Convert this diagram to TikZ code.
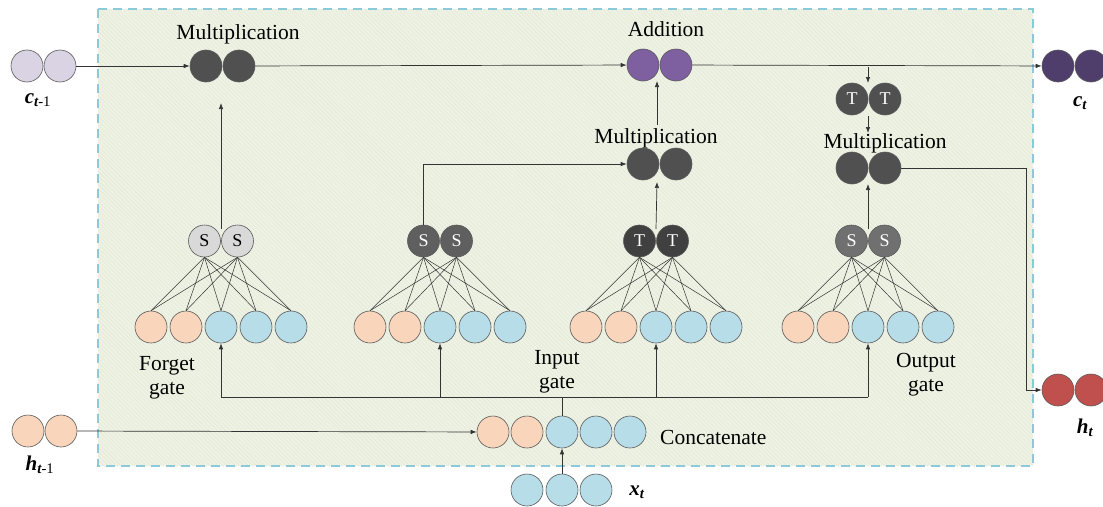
\documentclass[tikz,border=0pt]{standalone}
\usepackage{fontspec}
\setmainfont{Liberation Serif}
\usetikzlibrary{arrows.meta,patterns.meta}
\definecolor{peach}{HTML}{F9D5BB}
\definecolor{lblue}{HTML}{B7DDE8}
\definecolor{bord}{HTML}{5A5A5A}
\definecolor{cprev}{HTML}{DAD3E3}
\definecolor{mulc}{HTML}{505050}
\definecolor{addc}{HTML}{7E5FA0}
\definecolor{ctc}{HTML}{4F3D6B}
\definecolor{htc}{HTML}{C0504D}
\definecolor{sgl}{HTML}{D9D9D9}
\definecolor{sgi}{HTML}{5F5F5F}
\definecolor{tdark}{HTML}{404040}
\definecolor{sgo}{HTML}{707070}
\definecolor{bgc}{HTML}{EEF2E4}
\definecolor{bgline}{HTML}{E2E8D4}
\definecolor{dashc}{HTML}{8DCAD9}
\definecolor{linec}{HTML}{333333}
\tikzset{
  circ/.style={circle,draw=bord,line width=0.6pt,minimum size=32pt,inner sep=0pt,
    font=\fontsize{18}{20}\selectfont},
  pc/.style={circ,fill=peach},
  bc/.style={circ,fill=lblue},
  conn/.style={draw=linec,line width=0.7pt},
  arr/.style={conn,-{Latex[length=6pt,width=4.5pt]}},
  fan/.style={draw=linec,line width=0.5pt},
  lbl/.style={font=\fontsize{21.5}{24}\selectfont,inner sep=0pt,align=center},
  vlbl/.style={font=\fontsize{21}{24}\selectfont\bfseries\itshape,inner sep=0pt}
}
\begin{document}
\begin{tikzpicture}[x=1pt,y=-1pt]
\useasboundingbox (0,0) rectangle (1103,506);
% background box
\fill[bgc] (98,9) rectangle (1033,466);
\fill[pattern={Lines[angle=-45,distance=3pt,line width=0.4pt]},pattern color=bgline] (98,9) rectangle (1033,466);
\draw[dashc,line width=1.6pt,dash pattern=on 9pt off 6pt] (98,9) rectangle (1033,466);

% inputs/outputs
\node[circ,fill=cprev] (cp1) at (27,66) {};
\node[circ,fill=cprev] (cp2) at (60,66) {};
\node[vlbl] (cpl) at (38,100) {c\textsubscript{t\textmd{\upshape -1}}};
\node[circ,fill=ctc] (cout1) at (1058,66) {};
\node[circ,fill=ctc] (cout2) at (1091,66) {};
\node[vlbl] (ctl) at (1080,103) {c\textsubscript{t}};
\node[pc] (hp1) at (28,431) {};
\node[pc] (hp2) at (61,431) {};
\node[vlbl] (hpl) at (40,465) {h\textsubscript{t\textmd{\upshape -1}}};
\node[circ,fill=htc] (hout1) at (1058,390) {};
\node[circ,fill=htc] (hout2) at (1091,390) {};
\node[vlbl] (htl) at (1085,428) {h\textsubscript{t}};

% cell line nodes
\node[circ,fill=mulc] (m11) at (206,66) {};
\node[circ,fill=mulc] (m12) at (239,66) {};
\node[lbl] (m1l) at (238,34) {Multiplication};
\node[circ,fill=addc] (a1) at (643,65) {};
\node[circ,fill=addc] (a2) at (676,65) {};
\node[lbl] (al) at (666,29) {Addition};
\node[circ,fill=mulc] (m21) at (643,164) {};
\node[circ,fill=mulc] (m22) at (676,164) {};
\node[lbl] (m2l) at (656,138) {Multiplication};
\node[circ,fill=mulc,text=white] (tt1) at (852,99) {T};
\node[circ,fill=mulc,text=white] (tt2) at (885,99) {T};
\node[circ,fill=mulc] (m31) at (852,168) {};
\node[circ,fill=mulc] (m32) at (885,168) {};
\node[lbl] (m3l) at (885,143) {Multiplication};

% gates
\foreach \g/\m/\fc/\tc/\ch in {f/221/sgl/black/S, i/440/sgi/white/S, c/656/tdark/white/T, o/868/sgo/white/S}{
  \node[circ,fill=\fc,text=\tc] (\g t1) at (\m-16.5,241) {\ch};
  \node[circ,fill=\fc,text=\tc] (\g t2) at (\m+16.5,241) {\ch};
  \node[pc] (\g b1) at (\m-70,327) {};
  \node[pc] (\g b2) at (\m-35,327) {};
  \node[bc] (\g b3) at (\m,327) {};
  \node[bc] (\g b4) at (\m+35,327) {};
  \node[bc] (\g b5) at (\m+70,327) {};
  \foreach \t in {1,2}{
    \foreach \b in {1,...,5}{
      \draw[fan] (\g t\t.south) -- (\g b\b.north);
    }
  }
  \coordinate (\g j) at (\m,229);
  \coordinate (\g bus) at (\m,397);
}
\node[lbl] (fl) at (167,378) {Forget\\gate};
\node[lbl] (il) at (557,372) {Input\\gate};
\node[lbl] (ol) at (926,375) {Output\\gate};

% concatenate
\node[pc] (k1) at (493,432) {};
\node[pc] (k2) at (527,432) {};
\node[bc] (k3) at (562,432) {};
\node[bc] (k4) at (596,432) {};
\node[bc] (k5) at (630,432) {};
\node[lbl,anchor=west] (kl) at (660,437) {Concatenate};
\node[bc] (x1) at (527,490) {};
\node[bc] (x2) at (562,490) {};
\node[bc] (x3) at (596,490) {};
\node[vlbl] (xl) at (637,492) {x\textsubscript{t}};

% connectors
\draw[arr] (cp2) -- (m11);
\draw[arr] (m12) -- (a1);
\draw[arr] (a2) -- (cout1);
\coordinate (fe) at (221,103);
\draw[arr] (fj) -- (fe);
\draw[arr] (it1.north) |- (m21.west);
\coordinate (ce) at (657,182);
\draw[arr] (cj) -- (ce);
\coordinate (ms) at (657,125);
\coordinate (me) at (657,81);
\draw[arr] (ms) -- (me);
\coordinate (tb) at (868,67);
\coordinate (tbe) at (868,83);
\draw[arr] (tb) -- (tbe);
\coordinate (tts) at (868,116);
\coordinate (tte) at (868,133);
\draw[arr] (tts) -- (tte);
\coordinate (oe) at (868,184);
\draw[arr] (oj) -- (oe);
\coordinate (hc) at (1026,168);
\draw[arr] (m32.east) -- (hc) |- (hout1.west);
\coordinate (kt) at (562,397);
\draw[conn] (k3.north) -- (kt);
\draw[conn] (fbus) -- (obus);
\draw[arr] (fbus) -- (fb3.south);
\draw[arr] (ibus) -- (ib3.south);
\draw[arr] (cbus) -- (cb3.south);
\draw[arr] (obus) -- (ob3.south);
\draw[arr] (hp2) -- (k1);
\draw[arr] (x2.north) -- (k3.south);
\end{tikzpicture}
\end{document}
